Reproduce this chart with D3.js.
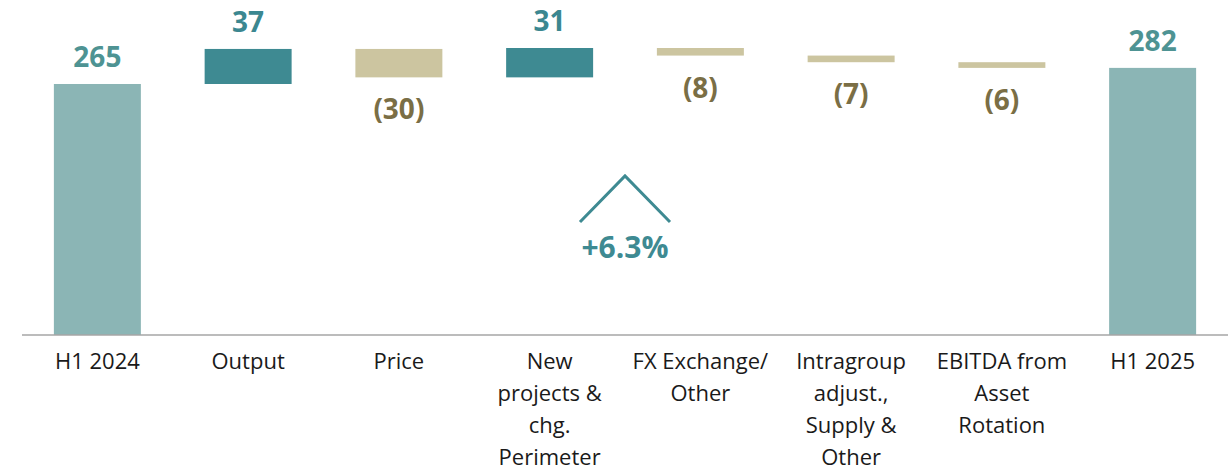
<!DOCTYPE html>
<html>
<head>
<meta charset="utf-8">
<script src="https://cdn.jsdelivr.net/npm/d3@7"></script>
<style>
  html, body { margin: 0; padding: 0; background: #fff; }
  #chart { width: 1230px; height: 472px; }
</style>
</head>
<body>
<div id="chart"></div>
<script>
const categories = ["H1 2024", "Output", "Price", "New projects & chg. Perimeter",
    "FX Exchange/ Other", "Intragroup adjust., Supply & Other", "EBITDA from Asset Rotation", "H1 2025"];
const labelLines = [
    ["H1 2024"],
    ["Output"],
    ["Price"],
    ["New", "projects &", "chg.", "Perimeter"],
    ["FX Exchange/", "Other"],
    ["Intragroup", "adjust.,", "Supply &", "Other"],
    ["EBITDA from", "Asset", "Rotation"],
    ["H1 2025"]
];
const values = [265, 37, -30, 31, -8, -7, -6, 282];
const isTotal = [true, false, false, false, false, false, false, true];
const growthLabel = "+6.3%";

const width = 1230;
const height = 472;
const baseY = 335;

const colors = {
    total: "#8bb5b5",
    up: "#3e8a92",
    down: "#ccc5a0",
    totalText: "#4e9393",
    upText: "#3b8790",
    downText: "#7a6e45"
};

// running totals for the waterfall
let run = 0;
const bars = categories.map((c, i) => {
    const v = values[i];
    let y0, y1;
    if (isTotal[i]) {
        y0 = 0; y1 = v; run = v;
    } else {
        y0 = run; y1 = run + v; run = y1;
    }
    return { cat: c, value: v, lo: Math.min(y0, y1), hi: Math.max(y0, y1), total: isTotal[i], lines: labelLines[i] };
});

const svg = d3.select("#chart").append("svg")
    .attr("width", width)
    .attr("height", height)
    .style("font-family", "'Open Sans', sans-serif");

const x = d3.scaleBand()
    .domain(categories)
    .range([22, 1228])
    .paddingInner(0.423)
    .paddingOuter(0.2115);

const y = d3.scaleLinear()
    .domain([0, d3.max(bars, d => d.hi)])
    .range([baseY, 48]);

svg.append("g")
    .selectAll("rect")
    .data(bars)
    .join("rect")
    .attr("x", d => x(d.cat))
    .attr("width", x.bandwidth())
    .attr("y", d => y(d.hi))
    .attr("height", d => y(d.lo) - y(d.hi))
    .attr("fill", d => d.total ? colors.total : (d.value > 0 ? colors.up : colors.down));

// baseline
svg.append("line")
    .attr("x1", 22).attr("x2", 1228)
    .attr("y1", y(0)).attr("y2", y(0))
    .attr("stroke", "#a6a6a6")
    .attr("stroke-width", 1.5);

// value labels
svg.append("g")
    .selectAll("text")
    .data(bars)
    .join("text")
    .attr("x", d => x(d.cat) + x.bandwidth() / 2)
    .attr("y", d => d.value < 0 ? y(d.lo) + 42 : y(d.hi) - 17)
    .attr("text-anchor", "middle")
    .attr("font-weight", 700)
    .style("font-size", "28px")
    .attr("fill", d => d.total ? colors.totalText : (d.value > 0 ? colors.upText : colors.downText))
    .text(d => d.value < 0 ? `(${Math.abs(d.value)})` : d.value);

// category labels
const catG = svg.append("g");
bars.forEach(d => {
    const t = catG.append("text")
        .attr("x", x(d.cat) + x.bandwidth() / 2)
        .attr("y", 369)
        .attr("text-anchor", "middle")
        .attr("fill", "#1a1a1a")
        .style("font-size", "22px");
    d.lines.forEach((ln, k) => {
        t.append("tspan")
            .attr("x", x(d.cat) + x.bandwidth() / 2)
            .attr("dy", k === 0 ? 0 : 32)
            .text(ln);
    });
});

// growth annotation between "New projects" and "FX"
const cx = (x(categories[3]) + x(categories[4])) / 2 + x.bandwidth() / 2;
svg.append("path")
    .attr("d", `M${cx - 45},222 L${cx},176 L${cx + 45},222`)
    .attr("fill", "none")
    .attr("stroke", colors.up)
    .attr("stroke-width", 3);

svg.append("text")
    .attr("x", cx)
    .attr("y", 258)
    .attr("text-anchor", "middle")
    .attr("font-weight", 700)
    .style("font-size", "30px")
    .attr("fill", colors.up)
    .text(growthLabel);
</script>
</body>
</html>
